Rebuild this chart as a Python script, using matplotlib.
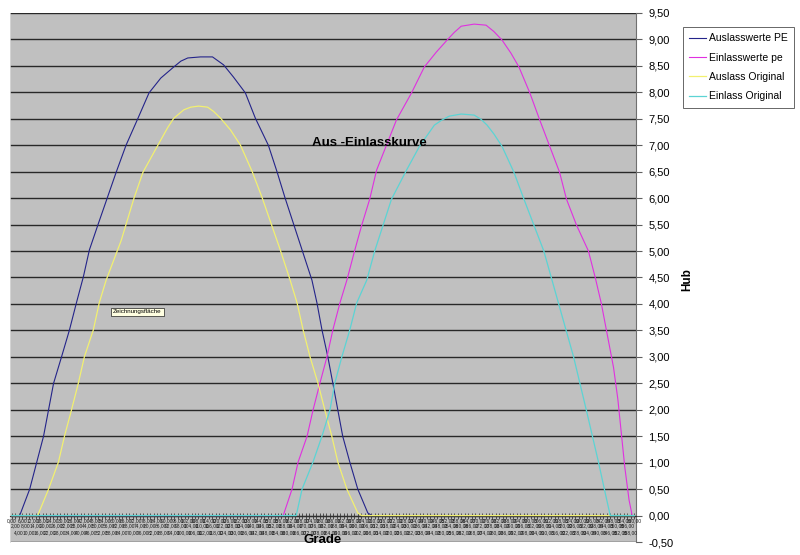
import matplotlib
matplotlib.use("Agg")
import matplotlib.pyplot as plt
import numpy as np

plt.rcParams['font.family'] = ['Liberation Sans', 'DejaVu Sans']

# categories on the x axis (Grade)
grade = np.arange(0, 362, 2)
grade_labels = [("%.2f" % g).replace('.', ',') for g in grade]

# Auslasswerte PE
aus_pe_x = [0, 4.6, 10.4, 18.4, 24.2, 28.8, 33.4, 37.4, 41.4, 44.9, 50.0, 55.2, 60.4, 66.1,
            73.0, 79.4, 86.2, 93.7, 97.8, 101.8, 109.2, 116.1, 122.5, 128.2, 135.1, 140.9,
            148.4, 153.5, 158.1, 167.9, 173.6, 176.5, 179.4, 182.8, 185.7, 188.6, 191.4,
            195.5, 200.1, 205.9, 208.2, 360]
aus_pe_y = [0, 0, 0.50, 1.50, 2.50, 3.00, 3.51, 4.02, 4.51, 5.02, 5.51, 6.00, 6.49, 7.00,
            7.51, 7.99, 8.27, 8.48, 8.59, 8.65, 8.67, 8.67, 8.52, 8.29, 7.99, 7.51,
            7.00, 6.49, 6.00, 5.02, 4.45, 4.02, 3.51, 3.00, 2.50, 1.99, 1.50,
            1.01, 0.50, 0.05, 0, 0]

# Einlasswerte pe
ein_pe_x = [0, 157.0, 162.1, 165.6, 170.8, 174.2, 178.2, 182.3, 185.7, 189.8, 193.8, 198.4,
            202.4, 207.0, 211.0, 222.5, 231.2, 238.6, 245.5, 251.8, 255.8, 259.9, 267.4,
            274.3, 278.8, 283.5, 288.7, 293.3, 299.6, 305.3, 311.1, 316.8, 320.8, 326.6,
            333.5, 337.5, 341.0, 344.5, 348.0, 350.5, 352.5, 354.5, 357.0, 358.8, 360]
ein_pe_y = [0, 0, 0.50, 1.01, 1.50, 1.99, 2.50, 3.00, 3.51, 4.02, 4.45, 5.02,
            5.49, 5.98, 6.53, 7.48, 7.99, 8.48, 8.76, 8.99, 9.13, 9.25, 9.29,
            9.27, 9.15, 8.99, 8.74, 8.48, 7.99, 7.48, 6.98, 6.49, 5.98, 5.49,
            5.00, 4.49, 4.00, 3.40, 2.80, 2.20, 1.56, 0.92, 0.29, 0, 0]

# Auslass Original
aus_or_x = [0, 15.0, 21.3, 27.0, 30.5, 34.5, 38.5, 42.0, 47.2, 50.6, 54.6, 63.3, 70.7, 75.9,
            84.5, 90.3, 93.7, 99.5, 103.5, 108.1, 113.3, 116.7, 120.8, 126.5, 132.3, 139.2,
            144.9, 155.3, 161.0, 165.0, 168.5, 172.5, 177.1, 181.1, 185.1, 188.6, 193.8,
            200.1, 202.4, 360]
aus_or_y = [0, 0, 0.50, 1.01, 1.50, 1.99, 2.50, 3.00, 3.51, 4.02, 4.45, 5.20, 6.00, 6.49,
            7.00, 7.34, 7.51, 7.67, 7.72, 7.74, 7.72, 7.64, 7.51, 7.29, 7.00, 6.49,
            6.00, 5.02, 4.45, 4.02, 3.51, 3.00, 2.50, 1.99, 1.50, 1.01, 0.50,
            0.05, 0, 0]

# Einlass Original
ein_or_x = [0, 164.5, 167.9, 174.2, 179.4, 184.0, 186.8, 190.9, 195.5, 199.5, 205.3, 209.9,
            219.6, 228.3, 235.8, 244.4, 248.4, 253.0, 259.9, 267.4, 271.4, 274.9, 278.9,
            283.5, 290.4, 296.2, 307.7, 316.3, 324.9, 332.3, 339.3, 342.7, 346.1, 360]
ein_or_y = [0, 0, 0.50, 1.01, 1.50, 1.99, 2.50, 3.00, 3.51, 4.02, 4.45, 5.00,
            5.98, 6.53, 6.98, 7.38, 7.47, 7.55, 7.59, 7.57, 7.49, 7.38, 7.21,
            6.98, 6.49, 5.98, 5.00, 4.00, 3.00, 1.99, 1.01, 0.50, 0, 0]

yticks = np.arange(-0.5, 9.51, 0.5)

fig = plt.figure(figsize=(8, 5.55), dpi=100)
ax = fig.add_axes([10/800, 13/555, 626/800, 529/555])
ax.set_facecolor('#c0c0c0')

ax.plot(aus_pe_x, aus_pe_y, color='#24248a', lw=0.8, label='Auslasswerte PE', zorder=3)
ax.plot(ein_pe_x, ein_pe_y, color='#e030e0', lw=0.8, label='Einlasswerte pe', zorder=3)
ax.plot(aus_or_x, aus_or_y, color='#f2f070', lw=0.9, label='Auslass Original', zorder=3)
ax.plot(ein_or_x, ein_or_y, color='#5cd4d4', lw=0.9, label='Einlass Original', zorder=3)

ax.set_xlim(-1, 361)
ax.set_ylim(-0.5, 9.5)

ax.yaxis.tick_right()
ax.set_yticks(yticks)
ax.set_yticklabels([("%.2f" % v).replace('.', ',') for v in yticks], fontsize=8)
ax.yaxis.grid(True, color='#282828', lw=1)
ax.set_axisbelow(True)
ax.tick_params(axis='y', direction='out', length=4, color='#606060', pad=5)

ax.spines['top'].set_visible(False)
ax.spines['left'].set_color('#d8d8d8')
ax.spines['left'].set_linewidth(0.6)
ax.spines['right'].set_color('#707070')
ax.spines['right'].set_linewidth(0.8)
ax.spines['bottom'].set_position(('data', 0))
ax.spines['bottom'].set_color('#303030')
ax.spines['bottom'].set_linewidth(0.8)
ax.set_xticks(grade)
ax.tick_params(axis='x', direction='inout', length=4, width=0.5, color='#202020',
               labelbottom=False)

# crowded category labels below the axis, as Excel draws them
rows = [-0.09, -0.20, -0.32]
for i, (g, lab) in enumerate(zip(grade, grade_labels)):
    ax.text(g, rows[i % 3], lab, fontsize=3.5, ha='center', va='center', color='#1a1a1a')

fig.text(369/800, 1 - 143/555, 'Aus -Einlasskurve', fontsize=9.5, fontweight='bold',
         ha='center', va='center')
fig.text(687/800, 1 - 280/555, 'Hub', fontsize=8.5, fontweight='bold', rotation=90,
         ha='center', va='center')
fig.text(323/800, 1 - 540/555, 'Grade', fontsize=9.5, fontweight='bold',
         ha='center', va='center')
fig.text(113/800, 1 - 312/555, 'Zeichnungsfläche', fontsize=4.5, ha='left', va='center',
         bbox=dict(boxstyle='square,pad=0.3', fc='#ffffe1', ec='#202020', lw=0.5))

leg = fig.legend(loc='upper left', bbox_to_anchor=(683/800, 1 - 27/555), fontsize=7.5,
                 frameon=True, fancybox=False, edgecolor='#404040', handlelength=1.6,
                 handletextpad=0.3, borderpad=0.6, labelspacing=0.9, borderaxespad=0)
leg.get_frame().set_linewidth(0.7)

fig.savefig('out.png', dpi=100)
